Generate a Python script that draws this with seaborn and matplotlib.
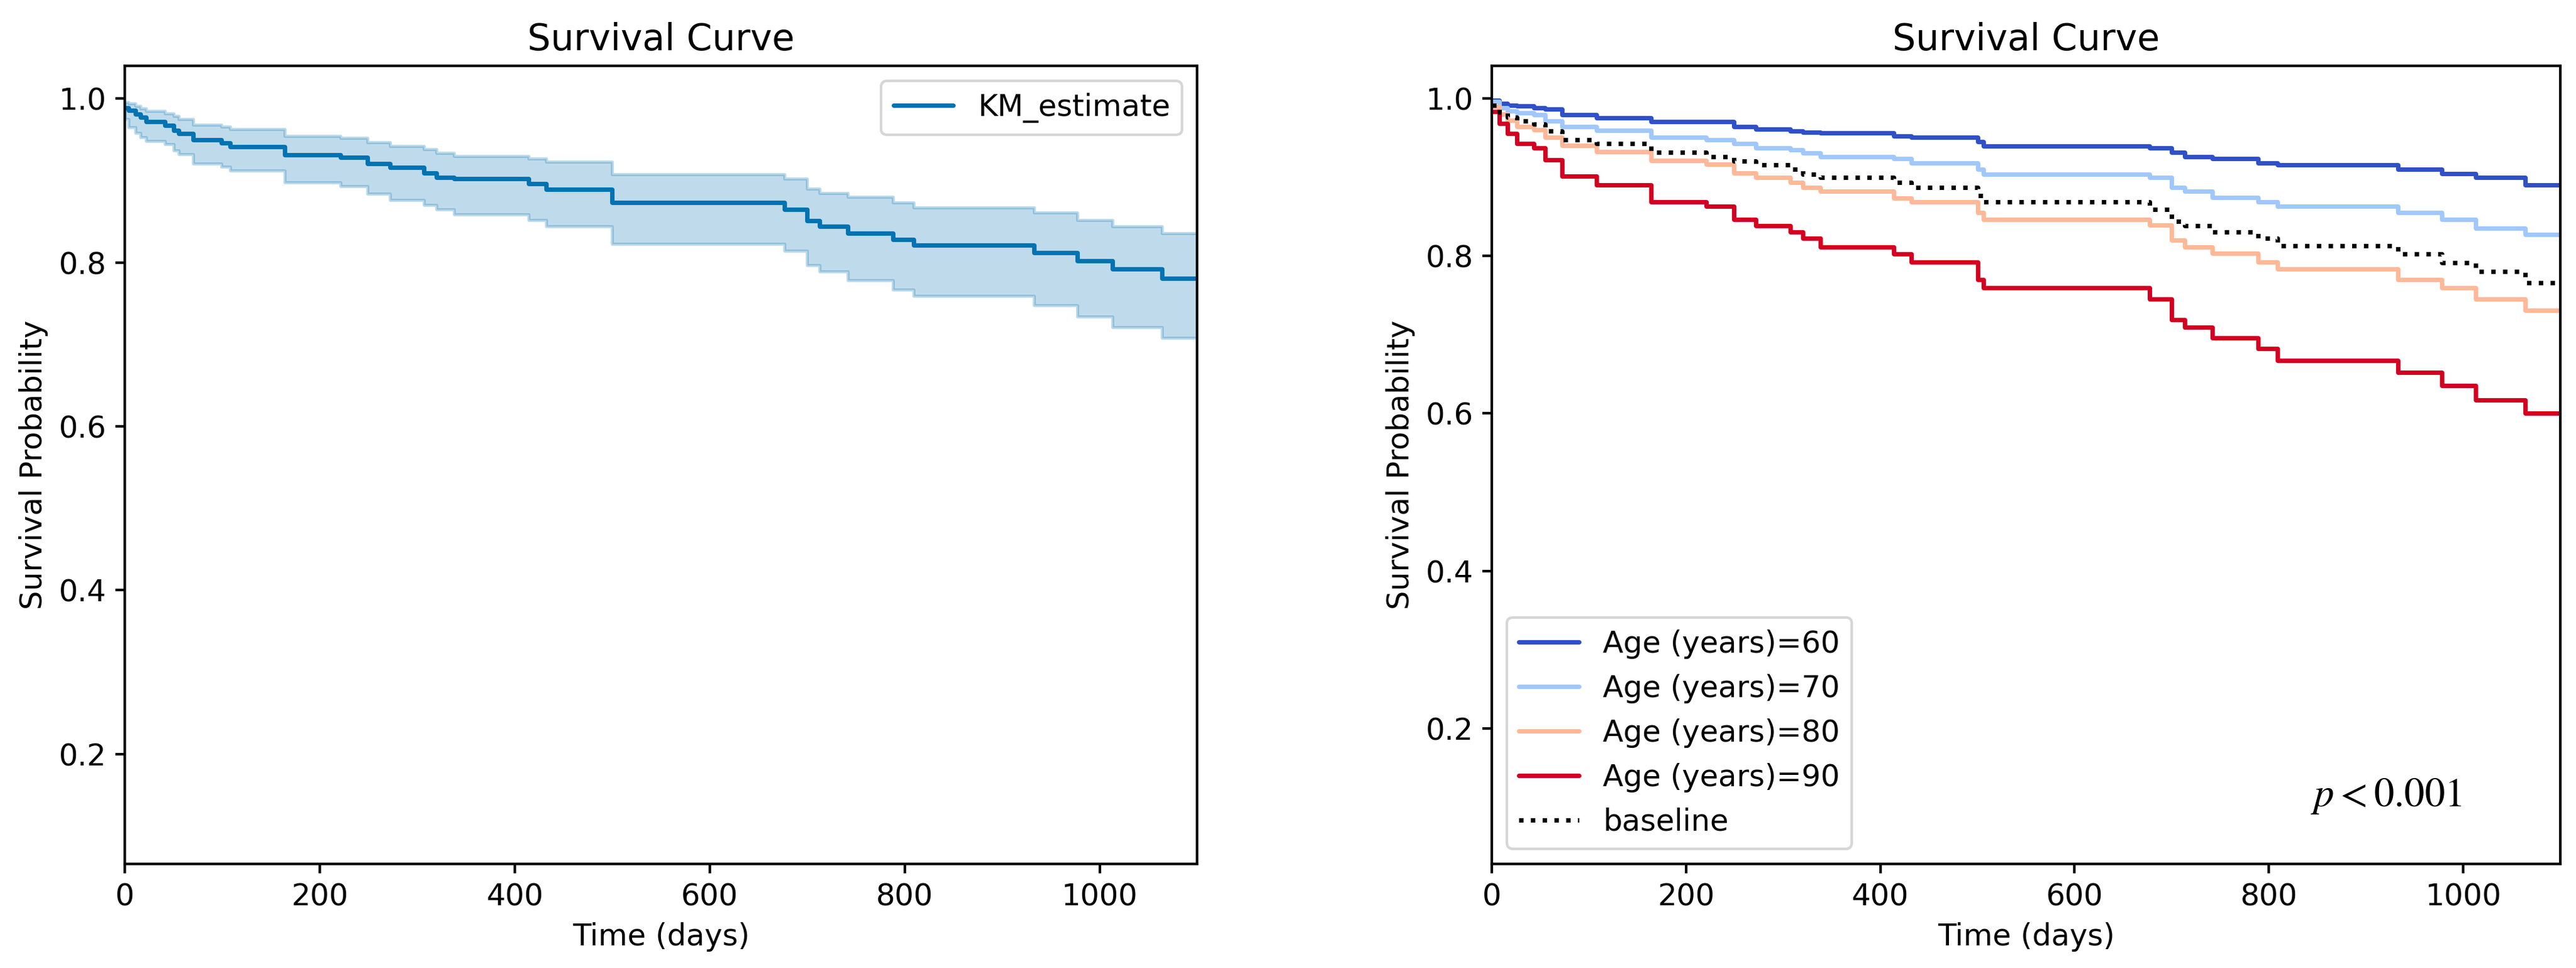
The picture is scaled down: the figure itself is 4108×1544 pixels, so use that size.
import numpy as np
import pandas as pd
import matplotlib
matplotlib.use("Agg")
import matplotlib.pyplot as plt
import seaborn as sns

# ---------------- data ----------------
end_day = 1100

km_days = [0, 4, 11, 16, 22, 41, 50, 55, 70, 99, 108, 164, 221, 249, 272, 307, 320, 338,
           414, 432, 500, 677, 700, 713, 742, 788, 809, 933, 977, 1013, 1064]
km_est = [0.989, 0.986, 0.981, 0.977, 0.972, 0.967, 0.961, 0.957, 0.950, 0.946, 0.941,
          0.931, 0.928, 0.921, 0.916, 0.909, 0.904, 0.902, 0.896, 0.889, 0.873, 0.865,
          0.851, 0.844, 0.836, 0.828, 0.821, 0.812, 0.802, 0.792, 0.781]
km_upper = [0.996, 0.994, 0.991, 0.988, 0.985, 0.982, 0.979, 0.975, 0.968, 0.966, 0.963,
            0.954, 0.952, 0.947, 0.942, 0.938, 0.934, 0.930, 0.927, 0.923, 0.908, 0.902,
            0.890, 0.885, 0.880, 0.873, 0.867, 0.861, 0.852, 0.844, 0.836]
km_lower = [0.975, 0.965, 0.958, 0.953, 0.948, 0.944, 0.937, 0.932, 0.921, 0.917, 0.912,
            0.898, 0.893, 0.884, 0.876, 0.870, 0.865, 0.859, 0.852, 0.844, 0.823, 0.814,
            0.797, 0.789, 0.778, 0.767, 0.759, 0.748, 0.734, 0.721, 0.708]

cox_days = [0, 8, 16, 26, 43, 55, 72, 108, 164, 221, 249, 272, 307, 320, 338, 414, 432,
            500, 506, 677, 700, 713, 742, 789, 809, 933, 978, 1013, 1064]
age_labels = ["Age (years)=60", "Age (years)=70", "Age (years)=80", "Age (years)=90"]
age60 = [0.997, 0.993, 0.991, 0.990, 0.988, 0.986, 0.979, 0.975, 0.970, 0.970, 0.964,
         0.961, 0.958, 0.957, 0.956, 0.952, 0.950, 0.945, 0.939, 0.937, 0.931, 0.926,
         0.923, 0.918, 0.915, 0.910, 0.904, 0.899, 0.890]
age70 = [0.996, 0.988, 0.984, 0.981, 0.979, 0.971, 0.964, 0.959, 0.950, 0.947, 0.942,
         0.937, 0.934, 0.930, 0.926, 0.923, 0.918, 0.910, 0.903, 0.899, 0.887, 0.882,
         0.874, 0.868, 0.863, 0.855, 0.846, 0.835, 0.827]
age80 = [0.989, 0.980, 0.972, 0.964, 0.960, 0.950, 0.940, 0.932, 0.921, 0.916, 0.905,
         0.899, 0.893, 0.887, 0.882, 0.873, 0.868, 0.855, 0.846, 0.839, 0.820, 0.811,
         0.803, 0.792, 0.783, 0.770, 0.759, 0.745, 0.731]
age90 = [0.983, 0.968, 0.955, 0.942, 0.937, 0.922, 0.901, 0.890, 0.868, 0.863, 0.846,
         0.838, 0.830, 0.822, 0.811, 0.802, 0.792, 0.770, 0.759, 0.745, 0.719, 0.709,
         0.696, 0.682, 0.667, 0.652, 0.635, 0.617, 0.600]
baseline = [0.991, 0.982, 0.976, 0.971, 0.967, 0.958, 0.947, 0.942, 0.931, 0.926, 0.920,
            0.915, 0.910, 0.903, 0.899, 0.893, 0.887, 0.876, 0.868, 0.859, 0.844, 0.838,
            0.830, 0.822, 0.813, 0.802, 0.791, 0.780, 0.766]
age_colors = ["#3050c8", "#a0c8fc", "#ffb898", "#d40022"]
p_text = r"$p < 0.001$"

# ---------------- style ----------------
sns.set_theme(style="ticks", rc={
    "axes.edgecolor": "black",
    "axes.linewidth": 1.0,
    "xtick.color": "black",
    "ytick.color": "black",
    "text.color": "black",
    "axes.labelcolor": "black",
})
plt.rcParams["font.family"] = ["DejaVu Sans"]
plt.rcParams["mathtext.fontset"] = "stix"

FS = 11.5
W, H = 4108, 1544
fig = plt.figure(figsize=(W / 300, H / 300), dpi=300)
ax1 = fig.add_axes([199 / W, (H - 1378) / H, 1710 / W, (1378 - 105) / H])
ax2 = fig.add_axes([2379 / W, (H - 1378) / H, 1704 / W, (1378 - 105) / H])


def extend(days, vals):
    return list(days) + [end_day], list(vals) + [vals[-1]]


# ---------------- left: KM ----------------
blue = sns.color_palette("colorblind")[0]
x, lo = extend(km_days, km_lower)
_, hi = extend(km_days, km_upper)
ax1.fill_between(x, lo, hi, step="post", color=blue, alpha=0.25, linewidth=1.2)
x, y = extend(km_days, km_est)
df_km = pd.DataFrame({"Time (days)": x, "Survival Probability": y})
sns.lineplot(data=df_km, x="Time (days)", y="Survival Probability", ax=ax1,
             color=blue, linewidth=1.7, drawstyle="steps-post", label="KM_estimate")
ax1.legend(loc="upper right", fontsize=FS)
ax1.set_xlim(0, end_day)
ax1.set_ylim(0.066, 1.04)

# ---------------- right: Cox partial effects ----------------
for lab, vals, col in zip(age_labels, [age60, age70, age80, age90], age_colors):
    x, y = extend(cox_days, vals)
    sns.lineplot(x=x, y=y, ax=ax2, color=col, linewidth=1.7,
                 drawstyle="steps-post", label=lab)
x, y = extend(cox_days, baseline)
sns.lineplot(x=x, y=y, ax=ax2, color="black", linewidth=1.7, linestyle=":",
             drawstyle="steps-post", label="baseline")
ax2.legend(loc="lower left", fontsize=FS)
ax2.set_xlim(0, end_day)
ax2.set_ylim(0.028, 1.041)
ax2.text(843, 0.101, p_text, fontsize=15.5, ha="left", va="baseline")

for ax in (ax1, ax2):
    ax.set_title("Survival Curve", fontsize=14)
    ax.set_xlabel("Time (days)", fontsize=FS)
    ax.set_ylabel("Survival Probability", fontsize=FS)
    ax.set_xticks([0, 200, 400, 600, 800, 1000])
    ax.set_yticks([0.2, 0.4, 0.6, 0.8, 1.0])
    ax.tick_params(labelsize=FS, length=3.5, width=1.0)
    for s in ax.spines.values():
        s.set_visible(True)

fig.savefig("out.png", dpi=300, facecolor="white")
